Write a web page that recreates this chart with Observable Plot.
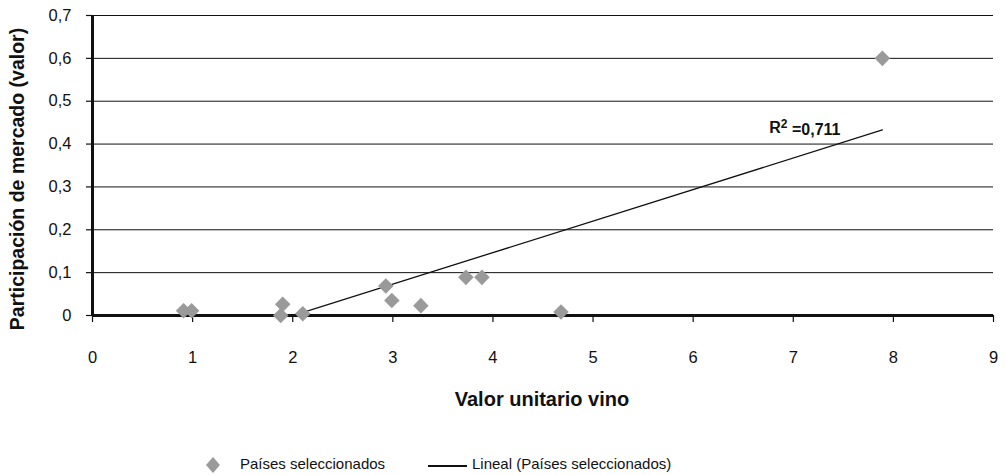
<!DOCTYPE html>
<html><head><meta charset="utf-8">
<script src="https://cdn.jsdelivr.net/npm/d3@7"></script>
<script src="https://cdn.jsdelivr.net/npm/@observablehq/plot@0.6"></script>
<style>
body{margin:0;background:#fff;font-family:"Liberation Sans",Arial,sans-serif;}
#wrap{position:relative;width:1006px;height:475px;}
#legend{position:absolute;left:0;top:455px;width:1006px;height:22px;font-size:15px;color:#111;}
#legend span{position:absolute;top:0;white-space:nowrap;}
</style></head>
<body><div id="wrap"><div id="chart"></div>
<div id="legend">
<span style="left:204px;top:1px"><svg width="18" height="18"><path d="M9 1 L16 9 L9 17 L2 9 Z" fill="#9a9a9a"/></svg></span>
<span style="left:240px">Países seleccionados</span>
<span style="left:428px;top:10px;width:39px;height:2px;background:#111"></span>
<span style="left:472px">Lineal (Países seleccionados)</span>
</div></div>
<script>
const valorUnitario = [0.91, 0.99, 1.88, 1.90, 2.10, 2.93, 2.99, 3.28, 3.73, 3.89, 4.68, 7.89];
const participacion = [0.011, 0.011, 0.000, 0.026, 0.004, 0.069, 0.035, 0.023, 0.089, 0.089, 0.008, 0.600];
const xTicks = [0,1,2,3,4,5,6,7,8,9];
const xTickLabels = ["0","1","2","3","4","5","6","7","8","9"];
const yTicks = [0,0.1,0.2,0.3,0.4,0.5,0.6,0.7];
const yTickLabels = ["0","0,1","0,2","0,3","0,4","0,5","0,6","0,7"];
const r2Label = ["R2 =0,711"];
const r2Pos = {x: 6.76, y: 0.437};

const data = valorUnitario.map((v,i)=>({x:v, y:participacion[i]}));
const font = "'Liberation Sans',Arial,sans-serif";

const chart = Plot.plot({
  width: 1006, height: 440,
  marginLeft: 92, marginRight: 13, marginTop: 15, marginBottom: 125,
  style: {fontFamily: font, fontSize: "16px", color: "#111", background: "#fff"},
  x: {domain: [0, 9], label: null},
  y: {domain: [0, 0.7], label: null},
  marks: [
    Plot.gridY(yTicks, {stroke: "#111", strokeOpacity: 1, strokeWidth: 1}),
    Plot.axisX({ticks: xTicks, tickFormat: () => "", tickSize: 7, stroke: "#111", strokeWidth: 1.2, label: null}),
    Plot.axisY({ticks: yTicks, tickFormat: () => "", tickSize: 6, stroke: "#111", strokeWidth: 1.2, label: null}),
    Plot.text(xTicks, {x: d => d, y: 0, dy: 42, text: (d, i) => xTickLabels[i], fontSize: 16.5, fill: "#111", textAnchor: "middle"}),
    Plot.text(yTicks, {x: 0, y: d => d, dx: -21, text: (d, i) => yTickLabels[i], fontSize: 16.5, fill: "#111", textAnchor: "end"}),
    Plot.ruleY([0], {stroke: "#111", strokeWidth: 3}),
    Plot.ruleX([0], {stroke: "#111", strokeWidth: 3, y1: 0, y2: 0.7}),
    Plot.linearRegressionY(data, {x: "x", y: "y", stroke: "#111", strokeWidth: 1.3, ci: 0, clip: true}),
    Plot.dot(data, {x: "x", y: "y", symbol: "diamond2", r: 7, fill: "#9a9a9a", stroke: "none"}),
    Plot.text(r2Label, {x: r2Pos.x, y: r2Pos.y, text: d => d, textAnchor: "start", fontWeight: "bold", fontSize: 16, fill: "#111", className: "r2lab"})
  ]
});
const svg = d3.select(chart);
svg.selectAll(".r2lab text").each(function(){
  const t = d3.select(this);
  const s = t.text();
  t.text("");
  t.append("tspan").text(s[0]);
  t.append("tspan").attr("dy", "-0.45em").attr("font-size", "0.75em").text(s[1]);
  t.append("tspan").attr("dy", "0.45em").text(s.slice(2));
});
svg.append("text").attr("x", 542).attr("y", 406).attr("text-anchor", "middle")
  .attr("font-family", font).attr("font-weight", "bold").attr("font-size", 20).attr("fill", "#111")
  .text("Valor unitario vino");
svg.append("text").attr("transform", "translate(24,179) rotate(-90)").attr("text-anchor", "middle")
  .attr("font-family", font).attr("font-weight", "bold").attr("font-size", 19.5).attr("fill", "#111")
  .text("Participación de mercado (valor)");
document.getElementById("chart").appendChild(chart);
</script></body></html>
